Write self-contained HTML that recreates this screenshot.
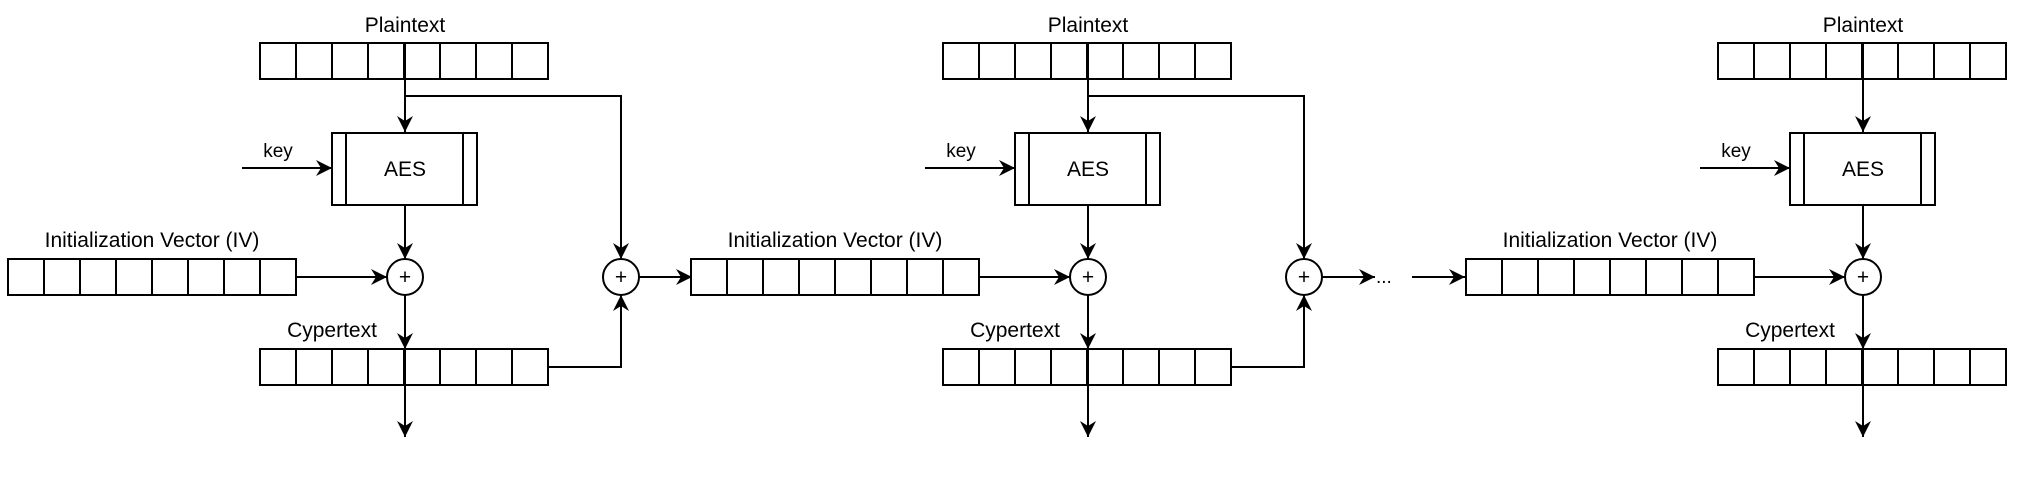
<!DOCTYPE html>
<html><head><meta charset="utf-8"><style>
html,body{margin:0;padding:0;background:#fff;}
svg{display:block;}
text{font-family:"Liberation Sans",Arial,sans-serif;fill:#000;}
</style></head><body>
<svg width="2028" height="482" viewBox="0 0 2028 482" xmlns="http://www.w3.org/2000/svg">
<defs>
<marker id="a" markerUnits="userSpaceOnUse" markerWidth="18" markerHeight="18" refX="16" refY="8" orient="auto">
<path d="M0,0 L16,8 L0,16 L5,8 Z" fill="#000"/>
</marker>
<g id="cells"><rect x="0" y="0" width="288" height="36" fill="#fff" stroke="#000" stroke-width="2"/>
<path d="M36,0V36M72,0V36M108,0V36M144,0V36M180,0V36M216,0V36M252,0V36" stroke="#000" stroke-width="2"/></g>
<g id="blk">
<text x="405" y="32" font-size="21" text-anchor="middle">Plaintext</text>
<use href="#cells" x="260" y="43"/>
<line x1="405" y1="79" x2="405" y2="132" stroke="#000" stroke-width="2" marker-end="url(#a)"/>
<rect x="332" y="133" width="145" height="72" fill="#fff" stroke="#000" stroke-width="2"/>
<path d="M346,133V205M463,133V205" stroke="#000" stroke-width="2"/>
<text x="405" y="176" font-size="21" text-anchor="middle">AES</text>
<text x="278" y="157" font-size="19" text-anchor="middle">key</text>
<line x1="242" y1="168" x2="332" y2="168" stroke="#000" stroke-width="2" marker-end="url(#a)"/>
<line x1="405" y1="205" x2="405" y2="259" stroke="#000" stroke-width="2" marker-end="url(#a)"/>
<circle cx="405" cy="277" r="18" fill="#fff" stroke="#000" stroke-width="2"/>
<text x="405" y="284" font-size="21" text-anchor="middle">+</text>
<text x="152" y="247" font-size="21" text-anchor="middle">Initialization Vector (IV)</text>
<use href="#cells" x="8" y="259"/>
<line x1="296" y1="277" x2="387" y2="277" stroke="#000" stroke-width="2" marker-end="url(#a)"/>
<line x1="405" y1="295" x2="405" y2="349" stroke="#000" stroke-width="2" marker-end="url(#a)"/>
<text x="332" y="337" font-size="21" text-anchor="middle">Cypertext</text>
<use href="#cells" x="260" y="349"/>
<line x1="405" y1="349" x2="405" y2="385" stroke="#000" stroke-width="2"/>
<line x1="405" y1="79" x2="405" y2="43" stroke="#000" stroke-width="2"/>
<line x1="405" y1="385" x2="405" y2="437" stroke="#000" stroke-width="2" marker-end="url(#a)"/>
</g>
<g id="br">
<polyline points="405,96 621,96 621,259" fill="none" stroke="#000" stroke-width="2" marker-end="url(#a)"/>
<polyline points="548,367 621,367 621,295" fill="none" stroke="#000" stroke-width="2" marker-end="url(#a)"/>
<circle cx="621" cy="277" r="18" fill="#fff" stroke="#000" stroke-width="2"/>
<text x="621" y="284" font-size="21" text-anchor="middle">+</text>
</g>
</defs>
<use href="#blk" x="0"/>
<use href="#br" x="0"/>
<line x1="639" y1="277" x2="692" y2="277" stroke="#000" stroke-width="2" marker-end="url(#a)"/>
<use href="#blk" x="683"/>
<use href="#br" x="683"/>
<line x1="1322" y1="277" x2="1375" y2="277" stroke="#000" stroke-width="2" marker-end="url(#a)"/>
<text x="1376" y="283" font-size="19">...</text>
<line x1="1412" y1="277" x2="1465" y2="277" stroke="#000" stroke-width="2" marker-end="url(#a)"/>
<use href="#blk" x="1458"/>
</svg>
</body></html>
